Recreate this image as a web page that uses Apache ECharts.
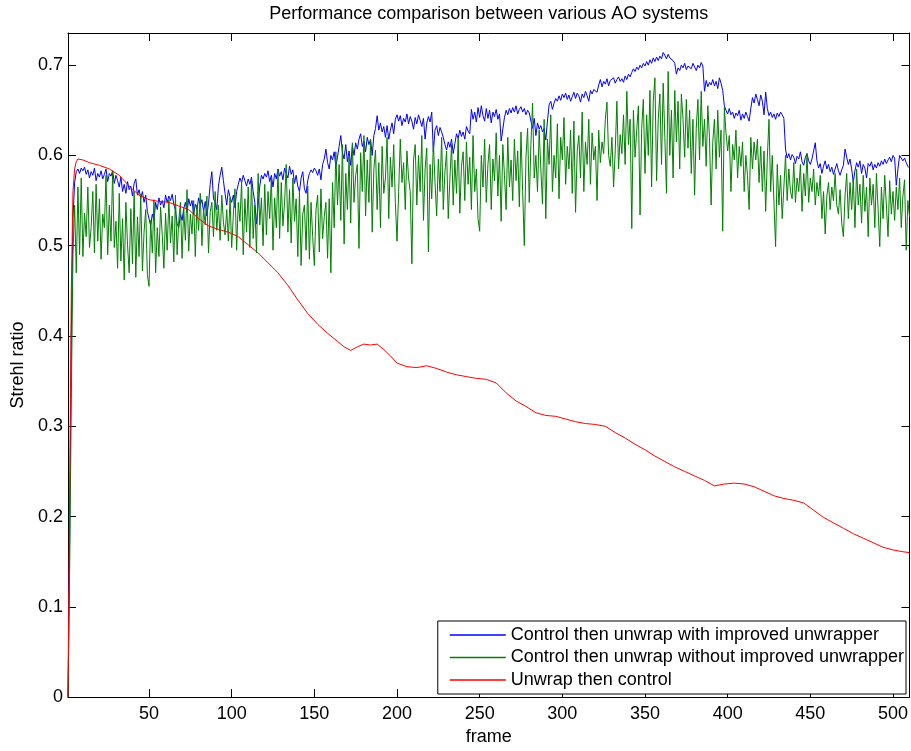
<!DOCTYPE html>
<html>
<head>
<meta charset="utf-8">
<title>Performance comparison between various AO systems</title>
<script src="https://cdn.jsdelivr.net/npm/echarts@6/dist/echarts.min.js"></script>
<style>
  html, body { margin: 0; padding: 0; background: #fff; }
  #chart { width: 911px; height: 751px; }
</style>
</head>
<body>
<div id="chart"></div>
<script>
// Strehl ratio per frame for three AO processing chains.

const chartTitle = 'Performance comparison between various AO systems';
const xName = 'frame';
const yName = 'Strehl ratio';
const seriesNames = [
  'Control then unwrap with improved unwrapper',
  'Control then unwrap without improved unwrapper',
  'Unwrap then control'
];
const seriesColors = ['#0000ff', '#008000', '#ff0000'];

const xTicks = [50, 100, 150, 200, 250, 300, 350, 400, 450, 500];
const yTicks = [0, 0.1, 0.2, 0.3, 0.4, 0.5, 0.6, 0.7];

// Control then unwrap, improved unwrapper (frames 1..510)
const improved = [
  0.000, 0.180, 0.400, 0.530, 0.570, 0.582, 0.585, 0.580, 0.586, 0.583,
  0.587, 0.579, 0.584, 0.575, 0.582, 0.578, 0.586, 0.572, 0.580, 0.576,
  0.583, 0.574, 0.579, 0.585, 0.571, 0.580, 0.577, 0.583, 0.569, 0.578,
  0.572, 0.565, 0.576, 0.560, 0.568, 0.558, 0.571, 0.562, 0.566, 0.555,
  0.569, 0.574, 0.556, 0.562, 0.552, 0.560, 0.548, 0.556, 0.538, 0.530,
  0.522, 0.535, 0.528, 0.548, 0.540, 0.553, 0.545, 0.550, 0.542, 0.556,
  0.548, 0.555, 0.550, 0.557, 0.546, 0.539, 0.524, 0.520, 0.535, 0.528,
  0.541, 0.548, 0.537, 0.552, 0.544, 0.550, 0.535, 0.546, 0.540, 0.553,
  0.545, 0.551, 0.538, 0.549, 0.533, 0.547, 0.568, 0.582, 0.552, 0.548,
  0.540, 0.566, 0.578, 0.587, 0.572, 0.558, 0.545, 0.562, 0.554, 0.548,
  0.556, 0.542, 0.560, 0.568, 0.575, 0.570, 0.578, 0.572, 0.566, 0.574,
  0.568, 0.576, 0.560, 0.548, 0.524, 0.545, 0.566, 0.578, 0.574, 0.580,
  0.576, 0.583, 0.571, 0.578, 0.565, 0.580, 0.574, 0.585, 0.577, 0.582,
  0.573, 0.586, 0.580, 0.575, 0.588, 0.579, 0.584, 0.569, 0.578, 0.566,
  0.560, 0.575, 0.582, 0.563, 0.558, 0.572, 0.580, 0.584, 0.581, 0.586,
  0.583, 0.578, 0.585, 0.573, 0.590, 0.596, 0.607, 0.592, 0.585, 0.600,
  0.595, 0.604, 0.588, 0.598, 0.610, 0.622, 0.603, 0.596, 0.612, 0.593,
  0.605, 0.589, 0.611, 0.600, 0.614, 0.607, 0.618, 0.624, 0.610, 0.616,
  0.604, 0.620, 0.612, 0.618, 0.600, 0.622, 0.630, 0.644, 0.628, 0.636,
  0.626, 0.632, 0.620, 0.633, 0.618, 0.628, 0.636, 0.624, 0.640, 0.645,
  0.638, 0.644, 0.633, 0.641, 0.637, 0.646, 0.635, 0.643, 0.638, 0.629,
  0.642, 0.635, 0.645, 0.639, 0.632, 0.641, 0.618, 0.636, 0.643, 0.637,
  0.648, 0.604, 0.628, 0.633, 0.622, 0.631, 0.626, 0.620, 0.612, 0.606,
  0.615, 0.609, 0.618, 0.602, 0.613, 0.624, 0.619, 0.628, 0.621, 0.626,
  0.618, 0.632, 0.627, 0.624, 0.651, 0.640, 0.648, 0.637, 0.653, 0.642,
  0.655, 0.644, 0.638, 0.652, 0.641, 0.650, 0.636, 0.648, 0.643, 0.651,
  0.640, 0.646, 0.616, 0.618, 0.642, 0.650, 0.645, 0.652, 0.647, 0.653,
  0.648, 0.655, 0.646, 0.651, 0.654, 0.648, 0.652, 0.645, 0.650, 0.647,
  0.638, 0.630, 0.641, 0.622, 0.636, 0.629, 0.633, 0.626, 0.630, 0.617,
  0.638, 0.656, 0.660, 0.651, 0.658, 0.663, 0.660, 0.666, 0.661, 0.668,
  0.664, 0.669, 0.662, 0.667, 0.660, 0.665, 0.670, 0.663, 0.669, 0.666,
  0.659, 0.668, 0.664, 0.671, 0.666, 0.660, 0.672, 0.668, 0.673, 0.675,
  0.670, 0.678, 0.684, 0.676, 0.682, 0.679, 0.685, 0.677, 0.683, 0.681,
  0.686, 0.680, 0.684, 0.687, 0.682, 0.685, 0.681, 0.688, 0.684, 0.690,
  0.687, 0.692, 0.696, 0.693, 0.698, 0.695, 0.700, 0.697, 0.702, 0.699,
  0.704, 0.700, 0.706, 0.702, 0.708, 0.704, 0.709, 0.705, 0.710, 0.707,
  0.714, 0.711, 0.707, 0.712, 0.708, 0.710, 0.705, 0.702, 0.690, 0.697,
  0.694, 0.700, 0.697, 0.702, 0.695, 0.699, 0.701, 0.696, 0.702, 0.698,
  0.694, 0.700, 0.697, 0.703, 0.699, 0.671, 0.683, 0.676, 0.681, 0.678,
  0.684, 0.677, 0.682, 0.674, 0.686, 0.680, 0.672, 0.655, 0.650, 0.646,
  0.652, 0.645, 0.648, 0.641, 0.647, 0.644, 0.650, 0.639, 0.646, 0.641,
  0.648, 0.643, 0.638, 0.652, 0.664, 0.658, 0.668, 0.662, 0.655, 0.667,
  0.660, 0.645, 0.670, 0.652, 0.644, 0.648, 0.642, 0.646, 0.640, 0.647,
  0.643, 0.648, 0.645, 0.641, 0.607, 0.597, 0.602, 0.595, 0.601, 0.598,
  0.591, 0.599, 0.596, 0.604, 0.593, 0.589, 0.598, 0.602, 0.594, 0.590,
  0.596, 0.605, 0.614, 0.594, 0.586, 0.591, 0.580, 0.588, 0.594, 0.585,
  0.590, 0.582, 0.587, 0.579, 0.585, 0.591, 0.583, 0.578, 0.584, 0.589,
  0.607, 0.598, 0.590, 0.596, 0.585, 0.570, 0.583, 0.592, 0.587, 0.594,
  0.580, 0.590, 0.586, 0.575, 0.591, 0.588, 0.593, 0.584, 0.590, 0.586,
  0.592, 0.588, 0.594, 0.590, 0.596, 0.591, 0.595, 0.598, 0.593, 0.600,
  0.597, 0.567, 0.585, 0.600, 0.599, 0.594, 0.597, 0.592, 0.588, 0.586
];

// Control then unwrap, without improved unwrapper (frames 1..510)
const plain = [
  0.000, 0.140, 0.330, 0.490, 0.545, 0.470, 0.565, 0.490, 0.575, 0.488,
  0.536, 0.510, 0.565, 0.498, 0.520, 0.560, 0.492, 0.568, 0.505, 0.552,
  0.485, 0.535, 0.520, 0.578, 0.490, 0.545, 0.505, 0.582, 0.498, 0.527,
  0.475, 0.558, 0.483, 0.530, 0.462, 0.548, 0.501, 0.470, 0.541, 0.480,
  0.560, 0.465, 0.532, 0.488, 0.557, 0.472, 0.515, 0.540, 0.468, 0.455,
  0.528, 0.492, 0.551, 0.470, 0.520, 0.488, 0.543, 0.512, 0.475, 0.536,
  0.495, 0.551, 0.503, 0.533, 0.482, 0.556, 0.490, 0.528, 0.548, 0.486,
  0.541, 0.506, 0.562, 0.494, 0.535, 0.513, 0.550, 0.488, 0.545, 0.517,
  0.558, 0.500, 0.541, 0.523, 0.555, 0.492, 0.537, 0.548, 0.510, 0.560,
  0.517, 0.545, 0.506, 0.556, 0.526, 0.512, 0.540, 0.505, 0.553, 0.498,
  0.534, 0.563, 0.495, 0.548, 0.527, 0.571, 0.490, 0.552, 0.515, 0.565,
  0.498, 0.574, 0.508, 0.545, 0.492, 0.580, 0.523, 0.553, 0.500, 0.568,
  0.512, 0.560, 0.530, 0.576, 0.495, 0.553, 0.520, 0.585, 0.508, 0.570,
  0.522, 0.548, 0.590, 0.515, 0.562, 0.503, 0.575, 0.527, 0.552, 0.488,
  0.560, 0.478, 0.535, 0.545, 0.495, 0.566, 0.485, 0.548, 0.510, 0.478,
  0.540, 0.556, 0.493, 0.563, 0.508, 0.532, 0.548, 0.486, 0.552, 0.470,
  0.570, 0.520, 0.604, 0.545, 0.590, 0.528, 0.612, 0.502, 0.580, 0.540,
  0.598, 0.525, 0.614, 0.548, 0.578, 0.590, 0.497, 0.603, 0.560, 0.622,
  0.533, 0.595, 0.548, 0.618, 0.515, 0.585, 0.606, 0.540, 0.592, 0.520,
  0.610, 0.558, 0.575, 0.620, 0.530, 0.598, 0.565, 0.612, 0.548, 0.505,
  0.560, 0.618, 0.570, 0.592, 0.540, 0.605, 0.575, 0.560, 0.480, 0.595,
  0.612, 0.545, 0.600, 0.560, 0.622, 0.528, 0.585, 0.608, 0.493, 0.590,
  0.552, 0.615, 0.570, 0.533, 0.596, 0.560, 0.620, 0.540, 0.582, 0.605,
  0.530, 0.575, 0.612, 0.545, 0.595, 0.558, 0.620, 0.536, 0.588, 0.604,
  0.550, 0.615, 0.568, 0.598, 0.540, 0.622, 0.560, 0.585, 0.530, 0.516,
  0.600, 0.565, 0.618, 0.548, 0.590, 0.612, 0.540, 0.596, 0.572, 0.625,
  0.555, 0.600, 0.527, 0.612, 0.578, 0.540, 0.620, 0.565, 0.595, 0.550,
  0.618, 0.572, 0.605, 0.543, 0.626, 0.560, 0.500, 0.598, 0.630, 0.548,
  0.612, 0.658, 0.575, 0.600, 0.560, 0.628, 0.585, 0.546, 0.640, 0.530,
  0.618, 0.590, 0.645, 0.560, 0.600, 0.575, 0.635, 0.552, 0.620, 0.595,
  0.642, 0.568, 0.610, 0.585, 0.628, 0.558, 0.638, 0.537, 0.605, 0.622,
  0.575, 0.648, 0.560, 0.615, 0.590, 0.640, 0.568, 0.625, 0.595, 0.610,
  0.550, 0.628, 0.592, 0.615, 0.602, 0.640, 0.659, 0.600, 0.588, 0.620,
  0.565, 0.605, 0.660, 0.585, 0.623, 0.602, 0.645, 0.590, 0.671, 0.612,
  0.640, 0.519, 0.650, 0.598, 0.628, 0.655, 0.534, 0.630, 0.662, 0.580,
  0.645, 0.600, 0.672, 0.565, 0.660, 0.686, 0.572, 0.640, 0.668, 0.590,
  0.680, 0.620, 0.558, 0.693, 0.600, 0.650, 0.575, 0.672, 0.615, 0.660,
  0.585, 0.668, 0.640, 0.598, 0.662, 0.608, 0.650, 0.580, 0.640, 0.556,
  0.630, 0.662, 0.595, 0.671, 0.610, 0.640, 0.588, 0.655, 0.620, 0.545,
  0.615, 0.640, 0.585, 0.650, 0.598, 0.628, 0.516, 0.653, 0.625, 0.605,
  0.622, 0.560, 0.612, 0.595, 0.628, 0.575, 0.610, 0.588, 0.615, 0.560,
  0.600, 0.578, 0.540, 0.620, 0.585, 0.615, 0.595, 0.618, 0.570, 0.610,
  0.560, 0.605, 0.538, 0.598, 0.640, 0.560, 0.600, 0.548, 0.499, 0.590,
  0.545, 0.578, 0.530, 0.565, 0.600, 0.550, 0.585, 0.560, 0.552, 0.592,
  0.548, 0.575, 0.560, 0.590, 0.538, 0.580, 0.555, 0.602, 0.548, 0.575,
  0.560, 0.585, 0.545, 0.570, 0.555, 0.578, 0.530, 0.560, 0.513, 0.555,
  0.570, 0.540, 0.565, 0.550, 0.580, 0.545, 0.535, 0.562, 0.525, 0.510,
  0.555, 0.580, 0.530, 0.570, 0.540, 0.575, 0.520, 0.585, 0.545, 0.568,
  0.525, 0.578, 0.538, 0.565, 0.510, 0.575, 0.545, 0.568, 0.520, 0.580,
  0.540, 0.499, 0.565, 0.530, 0.578, 0.545, 0.510, 0.572, 0.535, 0.560,
  0.528, 0.565, 0.540, 0.575, 0.520, 0.555, 0.573, 0.495, 0.550, 0.532
];

// Unwrap then control: smooth curve, sampled at these frames
const unwrapFrames = [
  1, 2, 3, 4, 5, 6, 7, 8, 10, 14, 20, 26, 32, 38, 44, 50, 56, 62, 68, 74,
  80, 86, 92, 98, 104, 110, 116, 122, 128, 134, 140, 146, 152, 158, 164, 168,
  172, 176, 180, 184, 188, 192, 196, 200, 206, 212, 218, 224, 230, 236, 242,
  248, 254, 260, 266, 272, 278, 284, 290, 296, 302, 308, 314, 320, 326, 332,
  338, 344, 350, 356, 362, 368, 374, 380, 386, 392, 398, 404, 410, 416, 422,
  428, 434, 440, 446, 452, 458, 464, 470, 476, 482, 488, 494, 500, 506, 510
];
const unwrapValues = [
  0.000, 0.220, 0.450, 0.560, 0.585, 0.593, 0.596, 0.597, 0.595, 0.592, 0.589,
  0.585, 0.578, 0.566, 0.556, 0.551, 0.549, 0.548, 0.544, 0.540,
  0.530, 0.522, 0.518, 0.515, 0.510, 0.501, 0.492, 0.481, 0.470, 0.456,
  0.440, 0.425, 0.413, 0.403, 0.394, 0.388,
  0.384, 0.388, 0.391, 0.390, 0.391, 0.385, 0.378, 0.370, 0.366, 0.365,
  0.367, 0.364, 0.360, 0.357, 0.355,
  0.353, 0.352, 0.348, 0.337, 0.328, 0.322, 0.315, 0.312, 0.311, 0.308,
  0.305, 0.303, 0.302, 0.300, 0.293,
  0.287, 0.280, 0.274, 0.267, 0.261, 0.255, 0.250, 0.245, 0.240, 0.234,
  0.236, 0.237, 0.236, 0.233, 0.228,
  0.223, 0.220, 0.218, 0.215, 0.207, 0.199, 0.193, 0.187, 0.181, 0.176,
  0.171, 0.166, 0.163, 0.161, 0.160
];

const FONT = '"Liberation Sans", Arial, Helvetica, sans-serif';
const FS = 18;

const perFrame = arr => arr.map((v, i) => [i + 1, v]);
const paired = (xs, ys) => xs.map((x, i) => [x, ys[i]]);

const tickStyle = { show: true, inside: true, length: 8, lineStyle: { color: '#000', width: 1 } };
const lineAxis = { show: true, onZero: false, lineStyle: { color: '#000', width: 1 } };

// Legend entries: plain coloured strokes, no marker
const legendEntries = seriesNames.map((name, i) => ({
  name,
  icon: 'rect',
  itemStyle: { color: seriesColors[i], opacity: 1, borderWidth: 0 }
}));

const chart = echarts.init(document.getElementById('chart'), null, { renderer: 'canvas' });

chart.setOption({
  animation: false,
  backgroundColor: '#ffffff',
  textStyle: { fontFamily: FONT, fontSize: FS, color: '#000' },
  grid: { left: 68, top: 33, right: -1, bottom: 49, containLabel: false },
  legend: {
    data: legendEntries,
    orient: 'vertical',
    right: 5,
    top: 621,
    padding: [5, 2, 5, 12],
    itemGap: 4.5,
    itemWidth: 56,
    itemHeight: 1.4,
    backgroundColor: '#ffffff',
    borderColor: '#000',
    borderWidth: 1,
    borderRadius: 0,
    textStyle: { fontFamily: FONT, fontSize: FS, color: '#000', lineHeight: 18 }
  },
  xAxis: [
    {
      type: 'value',
      min: 1,
      max: 510,
      position: 'bottom',
      name: xName,
      nameLocation: 'middle',
      nameGap: 29,
      nameTextStyle: { fontFamily: FONT, fontSize: FS, color: '#000' },
      axisLine: lineAxis,
      axisTick: Object.assign({ customValues: xTicks }, tickStyle),
      axisLabel: { customValues: xTicks, margin: 8, fontFamily: FONT, fontSize: FS, color: '#000' },
      splitLine: { show: false }
    },
    {
      type: 'value',
      min: 1,
      max: 510,
      position: 'top',
      name: chartTitle,
      nameLocation: 'middle',
      nameGap: 10,
      nameTextStyle: { fontFamily: FONT, fontSize: FS, color: '#000' },
      axisLine: lineAxis,
      axisTick: Object.assign({ customValues: xTicks }, tickStyle),
      axisLabel: { show: false },
      splitLine: { show: false }
    }
  ],
  yAxis: [
    {
      type: 'value',
      min: 0,
      max: 0.7356,
      position: 'left',
      name: yName,
      nameLocation: 'middle',
      nameGap: 40,
      nameRotate: 90,
      nameTextStyle: { fontFamily: FONT, fontSize: FS, color: '#000' },
      axisLine: lineAxis,
      axisTick: Object.assign({ customValues: yTicks }, tickStyle),
      axisLabel: { customValues: yTicks, margin: 5, fontFamily: FONT, fontSize: FS, color: '#000' },
      splitLine: { show: false }
    },
    {
      type: 'value',
      min: 0,
      max: 0.7356,
      position: 'right',
      axisLine: lineAxis,
      axisTick: Object.assign({ customValues: yTicks }, tickStyle),
      axisLabel: { show: false },
      splitLine: { show: false }
    }
  ],
  series: [
    {
      name: seriesNames[0],
      type: 'line',
      data: perFrame(improved),
      symbol: 'none',
      lineStyle: { color: seriesColors[0], width: 1 },
      itemStyle: { color: seriesColors[0] },
      z: 2
    },
    {
      name: seriesNames[1],
      type: 'line',
      data: perFrame(plain),
      symbol: 'none',
      lineStyle: { color: seriesColors[1], width: 1 },
      itemStyle: { color: seriesColors[1] },
      z: 3
    },
    {
      name: seriesNames[2],
      type: 'line',
      data: paired(unwrapFrames, unwrapValues),
      symbol: 'none',
      lineStyle: { color: seriesColors[2], width: 1 },
      itemStyle: { color: seriesColors[2] },
      z: 4
    }
  ]
});
</script>
</body>
</html>
